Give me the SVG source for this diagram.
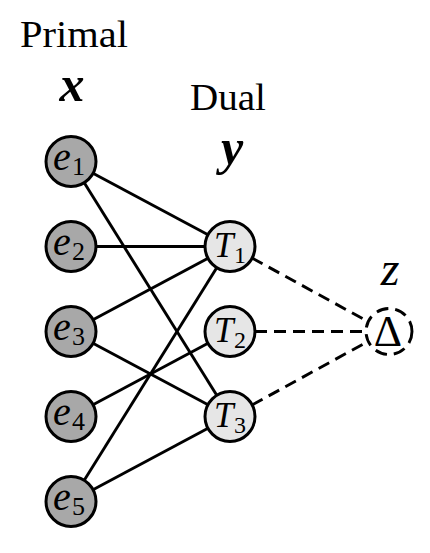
<svg xmlns="http://www.w3.org/2000/svg" width="430" height="553" viewBox="0 0 430 553">
<style>
.e{fill:#a8a8a8;stroke:#000;stroke-width:3}
.t{fill:#e6e6e6;stroke:#000;stroke-width:3}
.lbl{font-family:"Liberation Serif",serif;font-style:italic;fill:#000}
.big{font-size:40px}
.sub{font-size:26px;font-style:normal}
.tsub{font-size:24px;font-style:normal}
.hd{font-family:"Liberation Serif",serif;font-size:37px;fill:#000}
.bx{font-family:"Liberation Serif",serif;font-size:50px;font-style:italic;font-weight:bold;fill:#000}
.edge{stroke:#000;stroke-width:2.9;fill:none}
.dash{stroke:#000;stroke-width:2.9;fill:none;stroke-dasharray:12 7}
</style>
<g id="headers">
<text class="hd" x="20" y="47" textLength="108" lengthAdjust="spacingAndGlyphs">Primal</text>
<text class="bx" x="72" y="101" text-anchor="middle">x</text>
<text class="hd" x="190" y="110" textLength="76" lengthAdjust="spacingAndGlyphs">Dual</text>
<text class="bx" x="232" y="164" text-anchor="middle">y</text>
<text class="lbl" x="390" y="285" font-size="48" text-anchor="middle">z</text>
</g>
<g id="connectors">
<line class="edge" x1="71" y1="161.5" x2="230" y2="246.5"/>
<line class="edge" x1="71" y1="161.5" x2="230" y2="416.5"/>
<line class="edge" x1="71" y1="246.5" x2="230" y2="246.5"/>
<line class="edge" x1="71" y1="331.5" x2="230" y2="246.5"/>
<line class="edge" x1="71" y1="331.5" x2="230" y2="416.5"/>
<line class="edge" x1="71" y1="416.5" x2="230" y2="331.5"/>
<line class="edge" x1="71" y1="501.5" x2="230" y2="246.5"/>
<line class="edge" x1="71" y1="501.5" x2="230" y2="416.5"/>
<line class="dash" x1="252" y1="258" x2="367" y2="321"/>
<line class="dash" x1="255" y1="331.5" x2="366" y2="331.5"/>
<line class="dash" x1="252" y1="405" x2="367" y2="342"/>
</g>
<g id="e1"><circle class="e" cx="71" cy="161.5" r="25"/><text class="lbl big" x="53" y="170">e<tspan class="sub" x="72" y="175">1</tspan></text></g>
<g id="e2"><circle class="e" cx="71" cy="246.5" r="25"/><text class="lbl big" x="53" y="255">e<tspan class="sub" x="72" y="260">2</tspan></text></g>
<g id="e3"><circle class="e" cx="71" cy="331.5" r="25"/><text class="lbl big" x="53" y="340">e<tspan class="sub" x="72" y="345">3</tspan></text></g>
<g id="e4"><circle class="e" cx="71" cy="416.5" r="25"/><text class="lbl big" x="53" y="425">e<tspan class="sub" x="72" y="430">4</tspan></text></g>
<g id="e5"><circle class="e" cx="71" cy="501.5" r="25"/><text class="lbl big" x="53" y="510">e<tspan class="sub" x="72" y="515">5</tspan></text></g>
<g id="T1"><circle class="t" cx="230" cy="246.5" r="25"/><text class="lbl" font-size="35" x="214" y="257">T<tspan class="tsub" x="234" y="263">1</tspan></text></g>
<g id="T2"><circle class="t" cx="230" cy="331.5" r="25"/><text class="lbl" font-size="35" x="214" y="342">T<tspan class="tsub" x="234" y="348">2</tspan></text></g>
<g id="T3"><circle class="t" cx="230" cy="416.5" r="25"/><text class="lbl" font-size="35" x="214" y="427">T<tspan class="tsub" x="234" y="433">3</tspan></text></g>
<g id="delta"><circle class="dash" cx="389" cy="331.5" r="23" stroke-dasharray="10 6"/><text font-family="Liberation Serif,serif" font-size="44" x="388" y="346" text-anchor="middle">Δ</text></g>
</svg>
